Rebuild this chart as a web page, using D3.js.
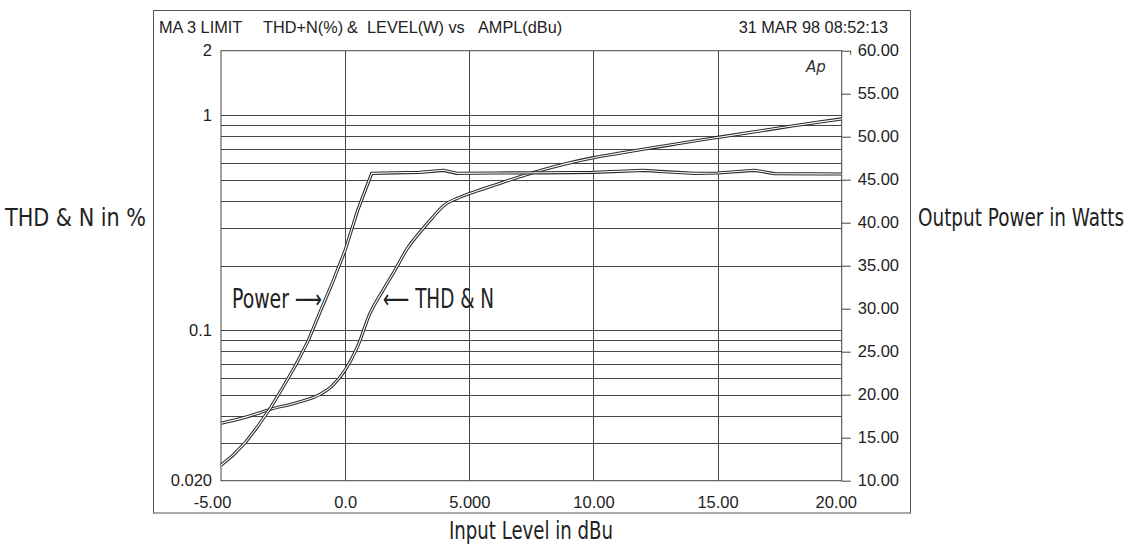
<!DOCTYPE html>
<html><head><meta charset="utf-8">
<script src="https://cdn.jsdelivr.net/npm/d3@7"></script>
<style>
html,body{margin:0;padding:0;background:#fff;}
svg{display:block;}
.tick text{font-family:"Liberation Sans",Arial,Helvetica,sans-serif;font-size:16.5px;fill:#222;}
.cond{font-family:"Liberation Sans Narrow","DejaVu Sans Condensed","Roboto Condensed","Liberation Sans",sans-serif;font-stretch:condensed;fill:#222;}
</style></head><body>
<svg id="chart" width="1136" height="544"></svg>
<script>
// ---- data ----
const titleParts = ["MA 3 LIMIT", "THD+N(%)", "&", "LEVEL(W) vs", "AMPL(dBu)"];
const dateText = "31 MAR 98 08:52:13";

const xTicks = [-5, 0, 5, 10, 15, 20];
const xTickLabels = ["-5.00", "0.0", "5.000", "10.00", "15.00", "20.00"];
const leftTicks = [0.02, 0.1, 1, 2];
const leftTickLabels = ["0.020", "0.1", "1", "2"];
const rightTicks = [10, 15, 20, 25, 30, 35, 40, 45, 50, 55, 60];
const rightTickLabels = ["10.00","15.00","20.00","25.00","30.00","35.00","40.00","45.00","50.00","55.00","60.00"];
const leftGrid = [0.03,0.04,0.05,0.06,0.07,0.08,0.09,0.1,0.2,0.3,0.4,0.5,0.6,0.7,0.8,0.9,1];
const xGrid = [0, 5, 10, 15];

// THD+N (%) vs input level (dBu)
const thdX = [-5,-4,-3,-2,-1,-0.5,0,0.5,1,1.5,2,2.5,3,3.5,4,4.5,5,5.5,6,6.5,7,7.5,8,9,10,11,12,13,14,15,16,17,18,19,20];
const thdY = [0.037,0.0395,0.043,0.046,0.0505,0.0555,0.0654,0.084,0.12,0.152,0.19,0.24,0.285,0.333,0.383,0.411,0.433,0.453,0.473,0.495,0.517,0.539,0.56,0.6,0.636,0.666,0.696,0.726,0.758,0.79,0.823,0.857,0.893,0.928,0.963];

// Output power (W) vs input level (dBu)
const powX = [-5,-4.5,-4,-3.5,-3,-2.5,-2,-1.5,-1,-0.5,0,0.5,1.07,2,3,3.96,4.5,6,8,10,12,13,14.1,15,16.5,17.3,19,20];
const powY = [11.8,13.0,14.5,16.4,18.5,20.9,23.4,26.2,29.7,33.1,36.8,41.4,45.74,45.8,45.85,46.09,45.74,45.78,45.8,45.86,46.09,45.9,45.74,45.78,46.09,45.70,45.68,45.66];

// annotation / axis-title texts
const leftTitle = "THD & N in %";
const rightTitle = "Output Power in Watts";
const bottomTitle = "Input Level in dBu";
const powerLabel = "Power \u27F6";
const thdLabel = "\u27F5 THD & N";

// ---- layout ----
const plot = {left: 221, right: 841.7, top: 50.7, bottom: 480.7};
const svg = d3.select("#chart");

const x = d3.scaleLinear().domain([-5, 20]).range([plot.left, plot.right]);
const yL = d3.scaleLog().domain([0.02, 2]).range([plot.bottom, plot.top]);
const yR = d3.scaleLinear().domain([10, 60]).range([plot.bottom, plot.top]);

// outer frame
svg.append("rect").attr("x", 153.5).attr("y", 10.5).attr("width", 757).attr("height", 502.5)
  .attr("fill", "none").attr("stroke", "#555").attr("stroke-width", 1);

// title
const tx = [159, 263, 347, 367, 478];
svg.append("g").selectAll("text").data(titleParts).join("text")
  .attr("x", (d, i) => tx[i]).attr("y", 32.5)
  .attr("font-family", "'Liberation Sans',Arial,sans-serif").attr("font-size", 16.3).attr("fill", "#222")
  .text(d => d);
svg.append("text").attr("x", 888).attr("y", 32.5).attr("text-anchor", "end")
  .attr("font-family", "'Liberation Sans',Arial,sans-serif").attr("font-size", 16.3).attr("fill", "#222")
  .text(dateText);

// grid
const grid = svg.append("g").attr("stroke", "#444").attr("stroke-width", 1);
grid.selectAll("line.h").data(leftGrid).join("line").attr("class", "h")
  .attr("x1", plot.left).attr("x2", plot.right)
  .attr("y1", d => Math.round(yL(d)) + 0.5).attr("y2", d => Math.round(yL(d)) + 0.5);
grid.selectAll("line.v").data(xGrid).join("line").attr("class", "v")
  .attr("y1", plot.top).attr("y2", plot.bottom)
  .attr("x1", d => Math.round(x(d)) + 0.5).attr("x2", d => Math.round(x(d)) + 0.5);

// plot border
svg.append("rect").attr("x", plot.left).attr("y", plot.top)
  .attr("width", plot.right - plot.left).attr("height", plot.bottom - plot.top)
  .attr("fill", "none").attr("stroke", "#444").attr("stroke-width", 1);

// axes
const xOff = {"-5": -9, "20": -6};
const gx = svg.append("g").attr("transform", `translate(0,${plot.bottom})`)
  .call(d3.axisBottom(x).tickValues(xTicks).tickFormat((d, i) => xTickLabels[i]).tickSize(0).tickPadding(15.5));
gx.select(".domain").remove();
gx.selectAll(".tick text").attr("dx", d => xOff[d] || 0);

const gl = svg.append("g").attr("transform", `translate(${plot.left},0)`)
  .call(d3.axisLeft(yL).tickValues(leftTicks).tickFormat((d, i) => leftTickLabels[i]).tickSize(0).tickPadding(9));
gl.select(".domain").remove();

const gr = svg.append("g").attr("transform", `translate(${plot.right},0)`)
  .call(d3.axisRight(yR).tickValues(rightTicks).tickFormat((d, i) => rightTickLabels[i]).tickSize(9).tickSizeOuter(0).tickPadding(7));
gr.select(".domain").remove();
gr.selectAll(".tick line").attr("stroke", "#444");
svg.append("line").attr("x1", plot.right + 9).attr("x2", plot.right + 9)
  .attr("y1", yR(60)).attr("y2", yR(60) + 4).attr("stroke", "#444");

// curves (double-stroke look)
const lineThd = d3.line().x(d => x(d[0])).y(d => yL(d[1])).curve(d3.curveMonotoneX);
const linePow = d3.line().x(d => x(d[0])).y(d => yR(d[1]));
const thdData = thdX.map((v, i) => [v, thdY[i]]);
const powData = powX.map((v, i) => [v, powY[i]]);
const curves = svg.append("g").attr("fill", "none").attr("stroke-linejoin", "round");
[[thdData, lineThd], [powData, linePow]].forEach(([data, gen]) => {
  curves.append("path").attr("d", gen(data)).attr("stroke", "#2a2a2a").attr("stroke-width", 3.2);
  curves.append("path").attr("d", gen(data)).attr("stroke", "#fff").attr("stroke-width", 1.1);
});

// Ap logo
svg.append("text").attr("x", 806).attr("y", 72).attr("font-family", "'DejaVu Sans',sans-serif")
  .attr("font-style", "italic").attr("font-weight", 300).attr("font-size", 15).attr("fill", "#333").text("Ap");

// annotations
function cond(t, x0, y0, len, size, anchor, sy) {
  svg.append("text").attr("class", "cond")
    .attr("transform", `translate(${x0},${y0}) scale(1,${sy || 1})`)
    .attr("font-size", size)
    .attr("text-anchor", anchor || "start")
    .attr("textLength", len).attr("lengthAdjust", "spacingAndGlyphs").text(t);
}
cond(powerLabel, 232, 308, 90, 26);
cond(thdLabel, 383, 308, 111, 26);

cond(leftTitle, 5, 226, 141, 22, "start", 1.15);
cond(rightTitle, 918, 226, 206, 19, "start", 1.33);
cond(bottomTitle, 531, 539, 164, 22, "middle", 1.15);
</script>
</body></html>
